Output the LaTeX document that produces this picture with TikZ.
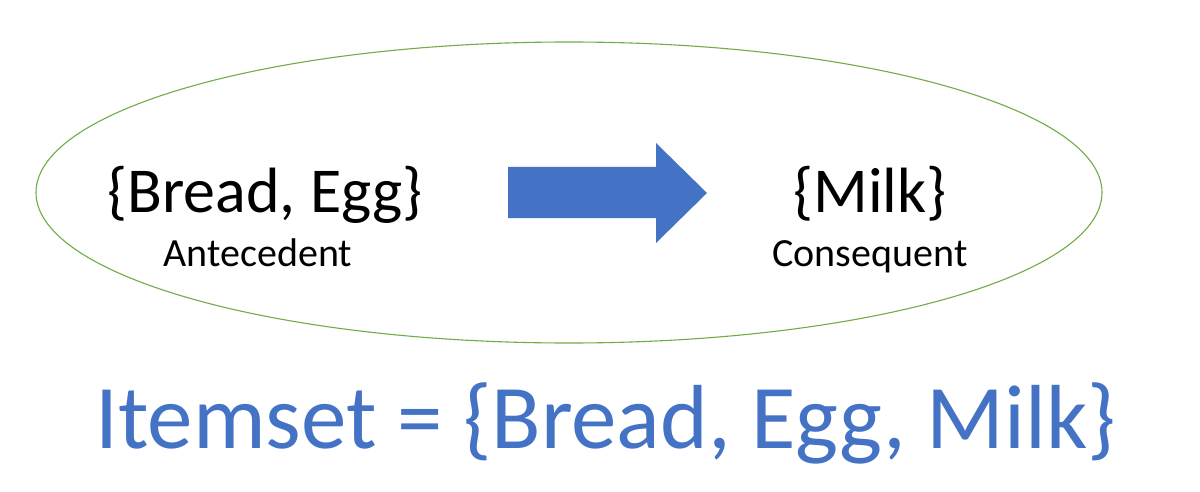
\documentclass[tikz,border=0pt]{standalone}
\usepackage{fontspec}
\setmainfont{Carlito}
\usetikzlibrary{shapes.arrows}
\definecolor{obblue}{HTML}{4472C4}
\definecolor{obgreen}{HTML}{70AD47}
\begin{document}
\begin{tikzpicture}[x=1pt,y=-1pt,
  bigtxt/.style={inner sep=0pt,anchor=base,font=\fontsize{64}{70}\selectfont},
  smalltxt/.style={inner sep=0pt,anchor=base,font=\fontsize{40}{46}\selectfont},
  itemtxt/.style={inner sep=0pt,anchor=base west,text=obblue,font=\fontsize{91}{98}\selectfont}]
\useasboundingbox (0,0) rectangle (1200,492);
\fill[white] (0,0) rectangle (1200,492);
\draw[obgreen,line width=1.1pt] (569,192.5) ellipse [x radius=533, y radius=150.5];
\node[bigtxt] (ante) at (265,212) {\{Bread, Egg\}};
\node[smalltxt] (antelbl) at (258,266) {Antecedent};
\node[bigtxt] (cons) at (870,212) {\{Milk\}};
\node[smalltxt] (conslbl) at (870,266) {Consequent};
\fill[obblue] (508,167) -- (656,167) -- (656,143) -- (707,193) -- (656,243) -- (656,218) -- (508,218) -- cycle;
\node[itemtxt] (itemset) at (95,448) {Itemset = \{Bread, Egg, Milk\}};
\end{tikzpicture}
\end{document}
